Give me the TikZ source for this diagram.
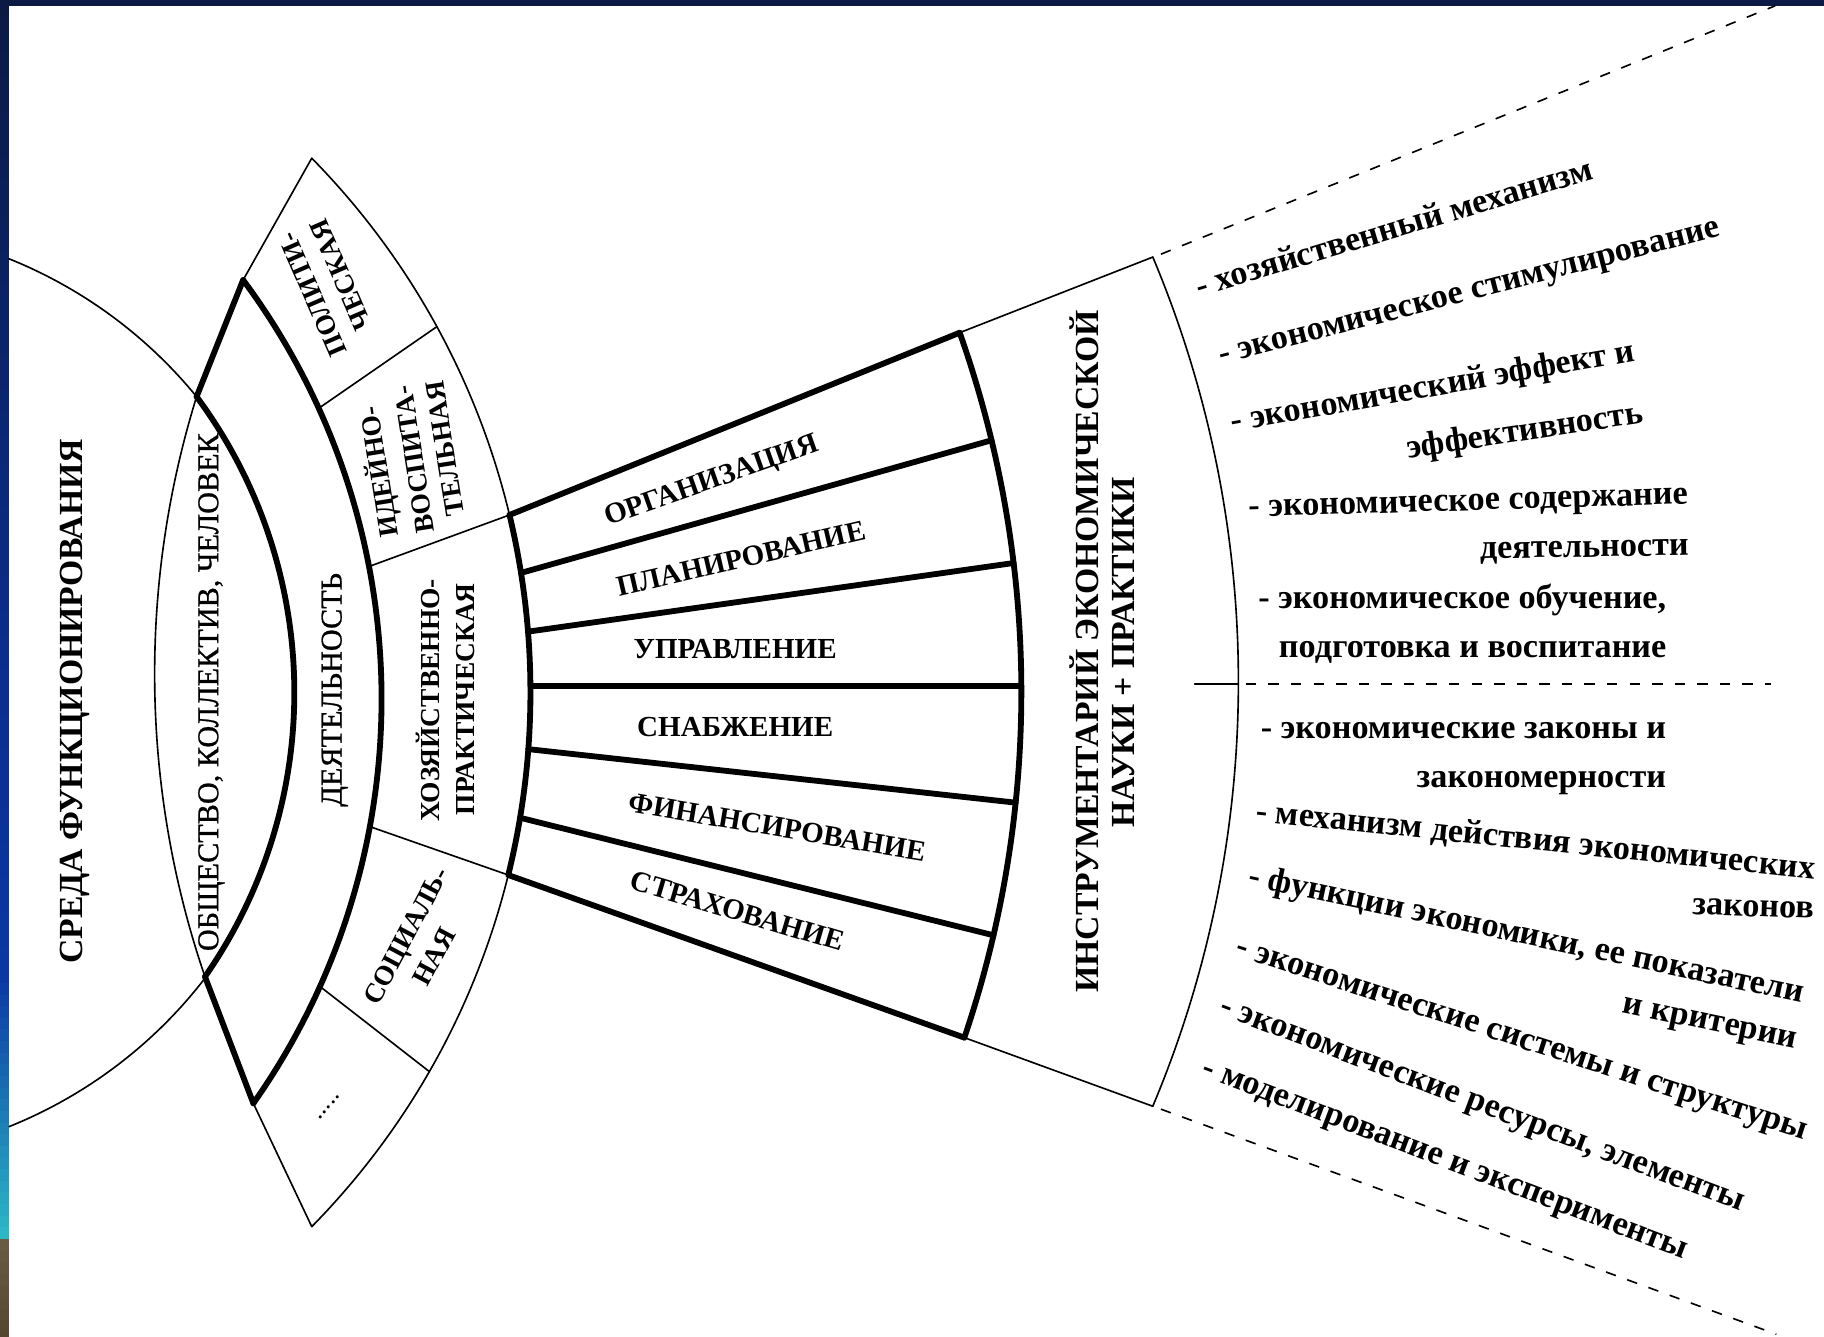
\documentclass[tikz,border=0pt]{standalone}
\usepackage{fontspec}
\setmainfont{Liberation Serif}
\newfontfamily\scanreg[FakeBold=0.8]{Liberation Serif}

% circle through three points (image pixel coords)
\newcommand\DefCirc[7]{%
  \edef\dcD{\fpeval{2*((#2)*((#5)-(#7))+(#4)*((#7)-(#3))+(#6)*((#3)-(#5)))}}%
  \expandafter\edef\csname ccx#1\endcsname{\fpeval{round((((#2)^2+(#3)^2)*((#5)-(#7))+((#4)^2+(#5)^2)*((#7)-(#3))+((#6)^2+(#7)^2)*((#3)-(#5)))/\dcD,4)}}%
  \expandafter\edef\csname ccy#1\endcsname{\fpeval{round((((#2)^2+(#3)^2)*((#6)-(#4))+((#4)^2+(#5)^2)*((#2)-(#6))+((#6)^2+(#7)^2)*((#4)-(#2)))/\dcD,4)}}%
  \expandafter\edef\csname ccr#1\endcsname{\fpeval{round(sqrt(((#2)-\csname ccx#1\endcsname)^2+((#3)-\csname ccy#1\endcsname)^2),4)}}%
}
% x on the right side of circle #1 at height #2, stored in #4
\newcommand\XOn[4]{\edef#4{\fpeval{round(\csname ccx#1\endcsname+(#3)*sqrt((\csname ccr#1\endcsname)^2-((#2)-\csname ccy#1\endcsname)^2),3)}}}
% arc of circle #2 from near (#3,#4) to near (#5,#6)
\newcommand\ArcOn[6]{%
  \edef\aoS{\fpeval{atand((#4)-\csname ccy#2\endcsname,(#3)-\csname ccx#2\endcsname)}}%
  \edef\aoE{\fpeval{atand((#6)-\csname ccy#2\endcsname,(#5)-\csname ccx#2\endcsname)}}%
  \edef\aoE{\fpeval{round(\aoS+(\aoE-\aoS)-360*round((\aoE-\aoS)/360),4)}}%
  \edef\aoS{\fpeval{round(\aoS,4)}}%
  \edef\aoR{\csname ccr#2\endcsname}%
  \edef\aoX{\fpeval{round(\csname ccx#2\endcsname+\aoR*cosd(\aoS),3)}}%
  \edef\aoY{\fpeval{round(\csname ccy#2\endcsname+\aoR*sind(\aoS),3)}}%
  \draw[#1] (\aoX,\aoY) arc[start angle=\aoS,end angle=\aoE,radius=\aoR];
}
% straight segment from circle #2 (height #3) to circle #4 (height #5)
\newcommand\SegOn[5]{%
  \XOn{#2}{#3}{1}{\soXa}\XOn{#4}{#5}{1}{\soXb}%
  \draw[#1] (\soXa,#3) -- (\soXb,#5);}

\definecolor{navyA}{HTML}{0B1A45}
\definecolor{blueA}{HTML}{0A2F8F}
\definecolor{blueB}{HTML}{0A37A2}
\definecolor{tealA}{HTML}{2CB6C6}
\definecolor{brownA}{HTML}{6A5A44}
\definecolor{brownB}{HTML}{54462F}

\tikzset{
  thinln/.style={line width=0.7pt, line cap=round},
  thickln/.style={line width=2.5pt, line cap=round, line join=round},
  dashln/.style={line width=0.7pt, dash pattern=on 4.5pt off 5.2pt},
  capA/.style={inner sep=0pt, font=\bfseries\fontsize{14.5}{16}\selectfont, text height=9.6pt, text depth=0pt},
  capR/.style={inner sep=0pt, font=\scanreg\fontsize{13}{15}\selectfont, text height=8.6pt, text depth=0pt},
  capC/.style={inner sep=0pt, font=\bfseries\fontsize{11.8}{13}\selectfont, text height=7.8pt, text depth=0pt},
  capF/.style={inner sep=0pt, font=\bfseries\fontsize{12.5}{14}\selectfont, text height=8.25pt, text depth=0pt},
  lst/.style={inner sep=0pt, font=\bfseries\fontsize{14.7}{16}\selectfont, text height=6.8pt, text depth=0pt},
}

\begin{document}
\begin{tikzpicture}[x=0.5pt, y=0.5pt, yscale=-1]
\useasboundingbox (0,0) rectangle (1568,1149);
\fill[white] (0,0) rectangle (1568,1149);
% left strip
\foreach \k in {0,...,58} {\pgfmathsetmacro\p{100-100*\k/58}\fill[navyA!\p!blueA] (0,{5+\k*10}) rectangle (7.5,{15.5+\k*10});}
\foreach \k in {0,...,23} {\pgfmathsetmacro\p{100-100*\k/23}\fill[blueA!\p!blueB] (0,{595+\k*10}) rectangle (7.5,{605.5+\k*10});}
\foreach \k in {0,...,22} {\pgfmathsetmacro\p{100-100*\k/22}\fill[blueB!\p!tealA] (0,{835+\k*10}) rectangle (7.5,{845.5+\k*10});}
\foreach \k in {0,...,8} {\pgfmathsetmacro\p{100-100*\k/8}\fill[brownA!\p!brownB] (0,{1065+\k*10}) rectangle (7.5,{1075.5+\k*10});}
\fill[navyA] (0,0) rectangle (1568,5);

% circles
\DefCirc{ST}{11.5}{224}{169}{341}{11.5}{967}
\DefCirc{LN}{169}{341}{133}{590}{176.2}{839.6}
\DefCirc{LT}{169}{341}{253}{590}{176.2}{839.6}
\DefCirc{DEY}{209}{240.7}{328}{595}{217.8}{948.5}
\DefCirc{OUT}{268}{136}{456}{595}{268}{1054.5}
\DefCirc{FR}{825}{286}{878}{590}{829}{892}
\DefCirc{BOX}{991}{221}{1064.6}{588}{991}{951}

% thin lines
\ArcOn{thinln}{ST}{8}{222}{169}{341}
\ArcOn{thinln}{ST}{176.2}{839.6}{8}{969}
\ArcOn{thinln}{LN}{169}{341}{176.2}{839.6}
\coordinate (topTip) at (268,136);
\coordinate (botTip) at (268,1054.5);
\coordinate (topCorner) at (209,240.7);
\coordinate (botCorner) at (217.8,948.5);
\coordinate (lensTop) at (169,341);
\coordinate (lensBot) at (176.2,839.6);
\draw[thinln] (topCorner) -- (topTip);
\draw[thinln] (botCorner) -- (botTip);
\ArcOn{thinln}{OUT}{268}{136}{437}{442.7}
\ArcOn{thinln}{OUT}{441.3}{752.2}{268}{1054.5}
\SegOn{thinln}{DEY}{351}{OUT}{280.8}
\SegOn{thinln}{DEY}{487}{OUT}{442.7}
\SegOn{thinln}{DEY}{710.6}{OUT}{752.2}
\SegOn{thinln}{DEY}{848}{OUT}{921.2}
\SegOn{thinln}{FR}{286}{BOX}{221}
\SegOn{thinln}{FR}{892}{BOX}{951}
\ArcOn{thinln}{BOX}{991}{221}{991}{951}
\coordinate (tickL) at (1027,588);
\coordinate (tickR) at (1064.6,588);
\coordinate (dashH1) at (1071,588);
\coordinate (dashH2) at (1522,588);
\coordinate (dashT1) at (998,218.5);
\coordinate (dashT2) at (1526,5);
\coordinate (dashB1) at (998,953.5);
\coordinate (dashB2) at (1527,1147);
\draw[thinln] (tickL) -- (tickR);
\draw[dashln] (dashH1) -- (dashH2);
\draw[dashln] (dashT1) -- (dashT2);
\draw[dashln] (dashB1) -- (dashB2);

% thick lines
\ArcOn{thickln}{LT}{169}{341}{176.2}{839.6}
\ArcOn{thickln}{DEY}{209}{240.7}{217.8}{948.5}
\draw[thickln] (lensTop) -- (topCorner);
\draw[thickln] (lensBot) -- (botCorner);
\ArcOn{thickln}{OUT}{437}{442.7}{441.3}{752.2}
\ArcOn{thickln}{FR}{825}{286}{829}{892}
\SegOn{thickln}{OUT}{442.7}{FR}{286}
\SegOn{thickln}{OUT}{492.5}{FR}{378.5}
\SegOn{thickln}{OUT}{543}{FR}{484}
\SegOn{thickln}{OUT}{590}{FR}{590}
\SegOn{thickln}{OUT}{644}{FR}{690}
\SegOn{thickln}{OUT}{703}{FR}{804}
\SegOn{thickln}{OUT}{752.2}{FR}{892}

% left labels
\node[capA, rotate=90] (sreda) at (61.5,603) {СРЕДА ФУНКЦИОНИРОВАНИЯ};
\node[capR, rotate=90] (obsh) at (179,595) {ОБЩЕСТВО, КОЛЛЕКТИВ, ЧЕЛОВЕК};
\node[capR, rotate=90] (deyat) at (285,593) {ДЕЯТЕЛЬНОСТЬ};
\node[capC, rotate=113.5] (pol1) at (268.6,253) {ПОЛИТИ-};
\node[capC, rotate=113.5] (pol2) at (293,236.4) {ЧЕСКАЯ};
\node[capC, rotate=99] (id1) at (326,406) {ИДЕЙНО-};
\node[capC, rotate=99] (id2) at (356,395) {ВОСПИТА-};
\node[capC, rotate=99] (id3) at (382.5,385.5) {ТЕЛЬНАЯ};
\node[capC, rotate=90] (hoz1) at (370,602) {ХОЗЯЙСТВЕННО-};
\node[capC, rotate=90] (hoz2) at (400,601) {ПРАКТИЧЕСКАЯ};
\node[capC, rotate=62] (soc1) at (348.9,804.5) {СОЦИАЛЬ-};
\node[capC, rotate=62] (soc2) at (373.2,822.4) {НАЯ};
\node[inner sep=0pt, font=\fontsize{11}{12}\selectfont, rotate=49] (dots) at (283,952) {.....};

% fan labels
\node[capF, rotate=19.5] (org) at (611,412) {ОРГАНИЗАЦИЯ};
\node[capF, rotate=13] (plan) at (637,480) {ПЛАНИРОВАНИЕ};
\node[capF] (upr) at (632,558) {УПРАВЛЕНИЕ};
\node[capF] (snab) at (632,625) {СНАБЖЕНИЕ};
\node[capF, rotate=-9.5] (fin) at (668,711) {ФИНАНСИРОВАНИЕ};
\node[capF, rotate=-16.5] (strah) at (634,783) {СТРАХОВАНИЕ};

% instrument
\node[capA, rotate=90] (instr1) at (934.5,560) {ИНСТРУМЕНТАРИЙ ЭКОНОМИЧЕСКОЙ};
\node[capA, rotate=90] (instr2) at (966,561) {НАУКИ + ПРАКТИКИ};

% list
\node[lst, rotate=16.7] (l1) at (1199,198) {- хозяйственный механизм};
\node[lst, rotate=14.4] (l2) at (1263,251.5) {- экономическое стимулирование};
\node[lst, rotate=10] (l3a) at (1232,334) {- экономический эффект и};
\node[lst, rotate=8.6] (l3b) at (1311,372) {эффективность};
\node[lst, rotate=1.7] (l4a) at (1262,432) {- экономическое содержание};
\node[lst, rotate=1] (l4b) at (1362,472) {деятельности};
\node[lst] (l5a) at (1257,516) {- экономическое обучение,};
\node[lst] (l5b) at (1266,558) {подготовка и воспитание};
\node[lst] (l6a) at (1258,628) {- экономические законы и};
\node[lst] (l6b) at (1325,670) {закономерности};
\node[lst, rotate=-5.9] (l7a) at (1320,724) {- механизм действия экономических};
\node[lst, rotate=-2] (l7b) at (1507,781) {законов};
\node[lst, rotate=-12] (l8a) at (1312,805) {- функции экономики, ее показатели};
\node[lst, rotate=-11.6] (l8b) at (1470,879) {и критерии};
\node[lst, rotate=-18] (l9) at (1308,894) {- экономические системы и структуры};
\node[lst, rotate=-20.7] (l10) at (1274,950) {- экономические ресурсы, элементы};
\node[lst, rotate=-20.8] (l11) at (1242,997) {- моделирование и эксперименты};
\end{tikzpicture}
\end{document}
